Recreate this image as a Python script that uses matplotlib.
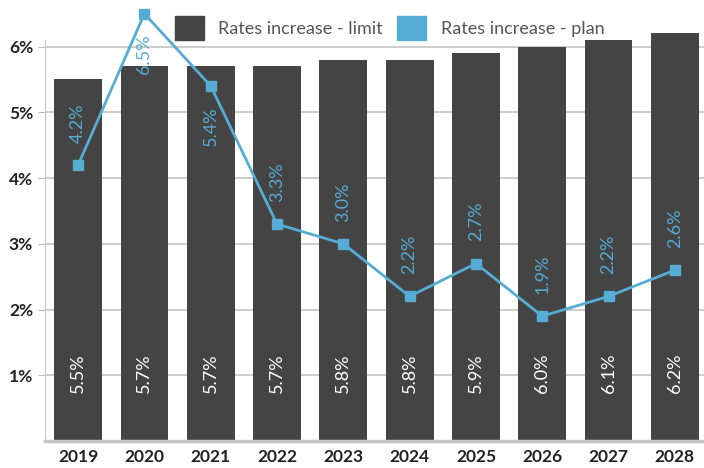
import matplotlib
matplotlib.use('Agg')
import matplotlib.pyplot as plt
from matplotlib.patches import Patch

plt.rcParams['font.family'] = ['Lato', 'DejaVu Sans']

years = ['2019', '2020', '2021', '2022', '2023', '2024', '2025', '2026', '2027', '2028']
limit = [5.5, 5.7, 5.7, 5.7, 5.8, 5.8, 5.9, 6.0, 6.1, 6.2]
plan = [4.2, 6.5, 5.4, 3.3, 3.0, 2.2, 2.7, 1.9, 2.2, 2.6]

dark = '#444444'
blue = '#55acd4'

fig = plt.figure(figsize=(7.04, 4.68), dpi=100)
ax = fig.add_axes([45/704, 27/468, 663/704, 401/468])

x = range(len(years))
bars = ax.bar(x, limit, width=0.72, color=dark, zorder=2)
for b in bars:
    b.set_clip_on(False)
ax.plot(x, plan, color=blue, lw=2, marker='s', ms=7, zorder=3, clip_on=False)

# bar values, rotated, near the bottom of each bar
for i, v in enumerate(limit):
    ax.text(i, 1.03, f'{v:.1f}%', rotation=90, color='white', fontsize=13,
            ha='center', va='center', zorder=4)

# plan values above the point, below it when near the top
for i, v in enumerate(plan):
    if v > 5:
        ax.annotate(f'{v:.1f}%', (i, v), xytext=(0, -15), textcoords='offset points',
                    rotation=90, color=blue, fontsize=13, ha='center', va='top',
                    zorder=4, annotation_clip=False)
    else:
        ax.annotate(f'{v:.1f}%', (i, v), xytext=(0, 16), textcoords='offset points',
                    rotation=90, color=blue, fontsize=13, ha='center', va='bottom',
                    zorder=4, annotation_clip=False)

ax.set_xlim(-0.5, 9.5)
ax.set_ylim(0, 6.1)
ax.set_yticks([1, 2, 3, 4, 5, 6])
ax.set_yticklabels([f'{t}%' for t in range(1, 7)])
ax.set_xticks(list(x))
ax.set_xticklabels(years)
ax.grid(axis='y', color='#c4c4c4', lw=1.2, zorder=0)
ax.set_axisbelow(True)
ax.tick_params(axis='y', length=5, color='#bbbbbb', labelsize=12.5, labelcolor='#222222')
ax.tick_params(axis='x', length=0, labelsize=12.5, labelcolor='#222222', pad=6)
for lab in ax.get_xticklabels() + ax.get_yticklabels():
    lab.set_fontweight('bold')

for s in ['top', 'right']:
    ax.spines[s].set_visible(False)
ax.spines['left'].set_color('#c4c4c4')
ax.spines['bottom'].set_color('#c4c4c4')
ax.spines['bottom'].set_linewidth(2.5)

handles = [Patch(color=dark, label='Rates increase - limit'),
           Patch(color=blue, label='Rates increase - plan')]
ax.legend(handles=handles, loc='center', bbox_to_anchor=(0.52, 1.03), ncol=2,
          frameon=False, fontsize=13, handlelength=1.6, handleheight=1.6,
          handletextpad=0.8, columnspacing=0.8, labelcolor='#555555')

fig.savefig('out.png', dpi=100)
